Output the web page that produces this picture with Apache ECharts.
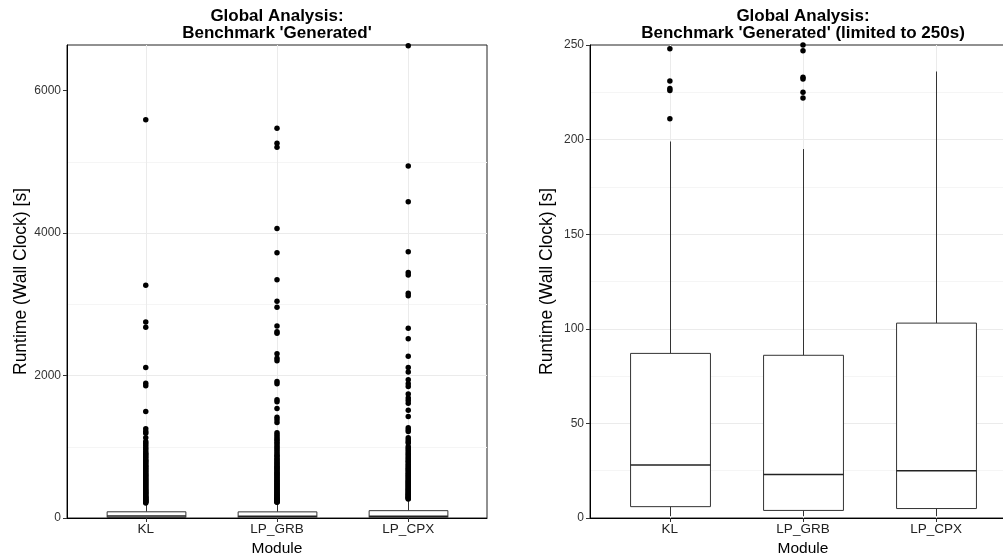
<!DOCTYPE html>
<html><head><meta charset="utf-8">
<script src="https://cdn.jsdelivr.net/npm/echarts@6/dist/echarts.min.js"></script>
<style>html,body{margin:0;padding:0;background:#fff}#c{width:1003px;height:558px}</style>
</head><body><div id="c"></div>
<script>
// ---- data ----
const categories = ['KL', 'LP_GRB', 'LP_CPX'];
const whiskerLow = [1, 1, 1];
const q1 = [6, 4, 5];
const median = [28, 23, 25];
const q3 = [87, 86, 103];
const whiskerHigh = [199, 195, 236];

const outliersKL = [5589, 3269, 2750, 2679, 2112, 1893, 1855, 1495, 1252, 1215, 1190, 1125, 1074, 1050, 1020, 990, 965, 933, 910, 890, 870, 852, 830, 812, 795, 776, 760, 742, 725, 708, 690, 676, 660, 645, 628, 612, 598, 583, 566, 552, 538, 522, 508, 495, 480, 466, 452, 440, 425, 412, 398, 386, 372, 360, 348, 336, 322, 310, 300, 290, 280, 270, 262, 254, 248, 231, 227, 226, 211];
const outliersGRB = [5472, 5262, 5206, 4063, 3722, 3343, 3044, 2960, 2697, 2613, 2595, 2305, 2244, 2206, 1916, 1883, 1659, 1631, 1537, 1416, 1378, 1341, 1195, 1168, 1140, 1112, 1090, 1065, 1040, 1010, 985, 960, 935, 905, 880, 863, 840, 818, 800, 780, 762, 745, 728, 710, 694, 676, 660, 642, 626, 610, 594, 578, 562, 546, 530, 515, 500, 486, 470, 456, 442, 428, 414, 400, 386, 372, 358, 345, 332, 320, 308, 296, 285, 274, 264, 256, 250, 247, 233, 232, 225, 222];
const outliersCPX = [6630, 4943, 4438, 3736, 3446, 3413, 3156, 3119, 2665, 2515, 2272, 2112, 2048, 1940, 1883, 1846, 1739, 1683, 1649, 1612, 1514, 1425, 1266, 1238, 1214, 1125, 1098, 1070, 1054, 1003, 980, 955, 930, 905, 884, 860, 838, 815, 795, 774, 755, 735, 716, 698, 680, 662, 645, 628, 610, 594, 578, 562, 546, 531, 516, 502, 488, 474, 460, 446, 432, 418, 405, 392, 380, 368, 356, 345, 334, 323, 312, 302, 292, 283, 274, 266];

const leftYTicks = [0, 2000, 4000, 6000];
const leftYMax = 6640;
const rightYMax = 250;
const rightYStep = 50;
const leftTitle = "Global Analysis:\nBenchmark 'Generated'";
const rightTitle = "Global Analysis:\nBenchmark 'Generated' (limited to 250s)";
const yName = 'Runtime (Wall Clock) [s]';
const xName = 'Module';

// ---- build ----
const catIdx = categories.map((c, i) => i);
const boxData = categories.map((c, i) => [i, whiskerLow[i], q1[i], median[i], q3[i], whiskerHigh[i]]);
const outlierData = [];
[outliersKL, outliersGRB, outliersCPX].forEach((arr, i) => arr.forEach(v => outlierData.push([i, v])));

const FONT = '"Liberation Sans", Arial, sans-serif';
const GRID_MAJOR = '#ebebeb';
const GRID_MINOR = '#f5f5f5';

function renderBox(params, api) {
  const x = api.value(0);
  const lo = api.coord([x, api.value(1)]);
  const b1 = api.coord([x, api.value(2)]);
  const md = api.coord([x, api.value(3)]);
  const b3 = api.coord([x, api.value(4)]);
  const hi = api.coord([x, api.value(5)]);
  const w = api.size([0.6, 0])[0];
  const cx = Math.round(lo[0]) + 0.5;
  const stroke = '#333';
  return {
    type: 'group', children: [
      { type: 'line', shape: { x1: cx, y1: lo[1], x2: cx, y2: b1[1] }, style: { stroke, lineWidth: 1 } },
      { type: 'line', shape: { x1: cx, y1: b3[1], x2: cx, y2: hi[1] }, style: { stroke, lineWidth: 1 } },
      { type: 'rect', shape: { x: cx - w / 2, y: b3[1], width: w, height: b1[1] - b3[1] }, style: { fill: '#fff', stroke, lineWidth: 1 } },
      { type: 'line', shape: { x1: cx - w / 2, y1: md[1], x2: cx + w / 2, y2: md[1] }, style: { stroke: '#222', lineWidth: 1.5 } }
    ]
  };
}

function makeX(gridIndex) {
  return {
    type: 'value', gridIndex, min: -0.6, max: categories.length - 0.4,
    name: xName, nameLocation: 'middle', nameGap: 17,
    nameTextStyle: { fontFamily: FONT, fontSize: 15.5, color: '#000' },
    axisLine: { show: true, onZero: false, lineStyle: { color: '#000', width: 1 } },
    axisTick: { show: true, customValues: catIdx, length: 4, lineStyle: { color: '#333' } },
    axisLabel: { customValues: catIdx, formatter: v => categories[Math.round(v)], margin: 4, fontFamily: FONT, fontSize: 13.5, color: '#222' },
    splitLine: { show: true, lineStyle: { color: GRID_MAJOR, width: 1 } }
  };
}

const yNameStyle = { fontFamily: FONT, fontSize: 17.5, color: '#000' };
const yLabel = { fontFamily: FONT, fontSize: 12, color: '#333', margin: 6, formatter: v => String(v) };
const titleStyle = { fontFamily: FONT, fontWeight: 'bold', fontSize: 17, lineHeight: 17, color: '#000' };

const option = {
  animation: false,
  backgroundColor: '#fff',
  title: [
    { text: leftTitle, left: 277, top: 8, padding: 0, textAlign: 'center', textStyle: titleStyle },
    { text: rightTitle, left: 803, top: 8, padding: 0, textAlign: 'center', textStyle: titleStyle }
  ],
  grid: [
    { left: 67, top: 45, width: 420, height: 473, show: true, borderColor: '#222', borderWidth: 1,
      backgroundColor: 'transparent', containLabel: false, outerBoundsMode: 'none' },
    { left: 590, top: 45, width: 426, height: 473, show: true, borderColor: '#222', borderWidth: 1,
      backgroundColor: 'transparent', containLabel: false, outerBoundsMode: 'none' }
  ],
  xAxis: [makeX(0), makeX(1)],
  yAxis: [
    { type: 'value', gridIndex: 0, min: 0, max: leftYMax,
      name: yName, nameLocation: 'middle', nameGap: 37, nameTextStyle: yNameStyle,
      axisLine: { show: true, onZero: false, lineStyle: { color: '#000' } },
      axisTick: { show: true, customValues: leftYTicks, length: 4, lineStyle: { color: '#333' } },
      axisLabel: Object.assign({ customValues: leftYTicks }, yLabel),
      splitLine: { show: true, showMaxLine: false, lineStyle: { color: GRID_MAJOR } } },
    { type: 'value', gridIndex: 0, min: 0, max: leftYMax, interval: 1000, position: 'right',
      axisLine: { show: false, onZero: false }, axisTick: { show: false }, axisLabel: { show: false },
      splitLine: { show: true, showMaxLine: false, lineStyle: { color: ['rgba(0,0,0,0)', GRID_MINOR] } } },
    { type: 'value', gridIndex: 1, min: 0, max: rightYMax, interval: rightYStep,
      name: yName, nameLocation: 'middle', nameGap: 34, nameTextStyle: yNameStyle,
      axisLine: { show: true, onZero: false, lineStyle: { color: '#000' } },
      axisTick: { show: true, length: 4, lineStyle: { color: '#333' } },
      axisLabel: yLabel,
      minorTick: { show: false, splitNumber: 2 },
      minorSplitLine: { show: true, lineStyle: { color: GRID_MINOR } },
      splitLine: { show: true, showMaxLine: false, lineStyle: { color: GRID_MAJOR } } }
  ],
  series: [
    { type: 'custom', xAxisIndex: 0, yAxisIndex: 0, renderItem: renderBox, data: boxData, z: 2, clip: true,
      encode: { x: 0, y: [1, 2, 3, 4, 5] } },
    { type: 'scatter', xAxisIndex: 0, yAxisIndex: 0, data: outlierData, symbolSize: 5.5, z: 3,
      itemStyle: { color: '#000', opacity: 1 }, clip: true },
    { type: 'custom', xAxisIndex: 1, yAxisIndex: 2, renderItem: renderBox, data: boxData, z: 2, clip: true,
      encode: { x: 0, y: [1, 2, 3, 4, 5] } },
    { type: 'scatter', xAxisIndex: 1, yAxisIndex: 2, data: outlierData, symbolSize: 5.5, z: 3,
      itemStyle: { color: '#000', opacity: 1 }, clip: true }
  ]
};
const chart = echarts.init(document.getElementById('c'), null, { renderer: 'canvas' });
chart.setOption(option);
</script></body></html>
